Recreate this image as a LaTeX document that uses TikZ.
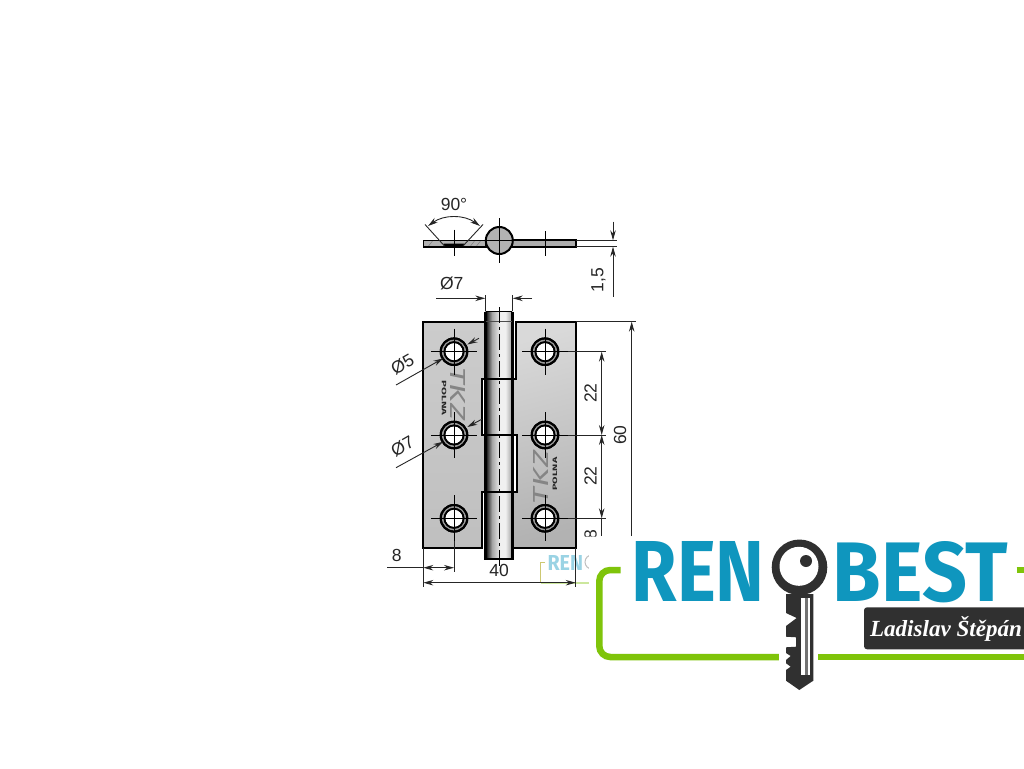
\documentclass[tikz,border=0pt]{standalone}
\usepackage{fontspec}
\usepackage{graphicx}
\setmainfont{Liberation Sans}
\newfontfamily\logofont{Fira Sans}
\newfontfamily\signfont{Liberation Serif}
\usetikzlibrary{arrows.meta}
\definecolor{logoblue}{HTML}{0F96BE}
\definecolor{logogreen}{HTML}{7FC40A}
\definecolor{logodark}{HTML}{303030}
\pgfdeclarehorizontalshading{pinshade}{100bp}{
 color(0bp)=(black); color(25bp)=(black); color(29bp)=(black!75); color(37bp)=(black!35);
 color(52bp)=(black!6); color(62bp)=(black!6); color(75bp)=(black!38); color(100bp)=(black!38)}
\tikzset{
 x=1pt,y=-1pt,
 dimtext/.style={font=\fontsize{17.5}{17.5}\selectfont,inner sep=0pt,text=black!85},
 dimline/.style={line width=0.9pt,draw=black!85},
 arrowline/.style={dimline,-{Stealth[length=10pt,width=5.5pt]}},
 centerline/.style={line width=0.9pt,draw=black},
 outline/.style={line width=2.2pt,draw=black,line join=miter},
 framegreen/.style={line width=6.5pt,draw=logogreen},
 holering/.style={draw=black,line width=2pt,fill=black!40},
 holeinner/.style={draw=black,line width=1.6pt,fill=white},
}
\newcommand{\hingehole}[2]{%
 \fill[holering] (#1,#2) circle (13.3);
 \fill[holeinner] (#1,#2) circle (9.6);
 \draw[holering,fill=none] (#1,#2) circle (13.3);
 \draw[holeinner,fill=none] (#1,#2) circle (9.6);
 \draw[centerline] (#1-23,#2) -- (#1+23,#2) (#1,#2-23) -- (#1,#2+23);
}
\begin{document}
\begin{tikzpicture}
\path[use as bounding box] (0,0) rectangle (1024,768);
\clip (0,0) rectangle (1024,768);
\fill[white] (0,0) rectangle (1024,768);

% ---------- watermark below the drawing
\node[inner sep=0pt,text=logoblue!42] (wm) at (565.3,562.5) {\resizebox{35.5pt}{15pt}{\logofont\bfseries REN}};
\draw[line width=1pt,draw=black!25] (592,562) circle (7);
\draw[line width=1pt,draw=olive!45] (545,562) -- (540.5,562) -- (540.5,583);
\draw[line width=1.2pt,draw=logogreen!40] (540.5,583) -- (589,583);

% ---------- top view
\fill[black!30] (423.3,240.3) rectangle (486,246.7);
\fill[black!32] (512,240.3) rectangle (575.7,246.7);
\draw[line width=0.3pt,black!60] (428,246.7) -- (433,240.3) (470,246.7) -- (475,240.3) (476,246.7) -- (481,240.3);
\draw[line width=1.6pt] (423.3,240.3) rectangle (486,246.7);
\draw[line width=2pt] (512,240.3) rectangle (575.7,246.7);
\fill[black] (443.5,243.5) -- (464,243.5) -- (463,247.4) -- (444.5,247.4) -- cycle;
\draw[dimline] (425,224.5) -- (444.5,246) (483,224.5) -- (463,246);
\draw[{Stealth[length=10pt,width=5.5pt]}-{Stealth[length=10pt,width=5.5pt]},dimline] (428,226) .. controls (444,214.5) and (464,214.5) .. (480,226);
\node[dimtext] (a90) at (454,204) {90°};
\fill[black!30,draw=black,line width=2pt] (499.3,240.5) circle (13.5);
\draw[centerline] (499.3,218) -- (499.3,263) (486,240.5) -- (512.6,240.5);
\draw[centerline] (454,229.5) -- (454,256);
\draw[centerline] (545,231) -- (545,256);
% 1,5
\draw[dimline] (576,240.3) -- (617,240.3) (576,246.7) -- (617,246.7);
\draw[arrowline] (613,221.7) -- (613,240.3);
\draw[arrowline] (613,296.7) -- (613,246.7);
\node[dimtext,rotate=90] (t15) at (598.5,280) {1,5};

% ---------- front view: leaves
\path[draw=none,top color=black!20,bottom color=black!25]
 (423.3,321.7) -- (486,321.7) -- (486,379) -- (482.3,379) -- (482.3,435) -- (486,435) -- (486,492) -- (482.3,492) -- (482.3,548.3) -- (423.3,548.3) -- cycle;
\path[draw=none,top color=black!15,middle color=black!3,bottom color=black!30,shading angle=15]
 (516,321.7) -- (575.7,321.7) -- (575.7,548.3) -- (512,548.3) -- (512,492) -- (516.7,492) -- (516.7,435) -- (512,435) -- (512,379) -- (516,379) -- cycle;
% pin
\shade[shading=pinshade] (485.7,311.7) rectangle (512.3,559);
% outlines
\draw[outline] (485.7,321.7) -- (423.3,321.7) -- (423.3,548.3) -- (482.3,548.3) -- (482.3,492) -- (516.7,492) -- (516.7,435) -- (482.3,435) -- (482.3,379) -- (516,379) -- (516,321.7) -- (575.7,321.7) -- (575.7,548.3) -- (512.3,548.3);
\draw[line width=2.6pt] (485.7,311.7) -- (485.7,559) -- (512.3,559) -- (512.3,311.7);
\draw[line width=1.2pt] (485.7,311.7) -- (512.3,311.7);
\draw[line width=0.8pt,black!70] (485.7,321.7) -- (512.3,321.7);
\draw[dimline] (485.3,295) -- (485.3,311) (512.7,295) -- (512.7,311);
% pin centre line
\draw[line width=1pt,dash pattern=on 16pt off 4pt on 3pt off 4pt] (499,307) -- (499,570);

% logos on the leaves
\node[inner sep=0pt,rotate=-90,text=black!48] (logoa) at (458,393.5) {\resizebox{53pt}{15pt}{\logofont\itshape TKZ}};
\node[inner sep=0pt,rotate=-90,text=black!85] (logob) at (444,398) {\resizebox{35pt}{4.5pt}{\logofont\bfseries POLNA}};
\node[inner sep=0pt,rotate=90,text=black!48] (logoc) at (541,477.5) {\resizebox{53pt}{15pt}{\logofont\itshape TKZ}};
\node[inner sep=0pt,rotate=90,text=black!85] (logod) at (555,474) {\resizebox{33pt}{4.5pt}{\logofont\bfseries POLNA}};

% holes
\hingehole{454}{351.7}
\hingehole{454}{435}
\hingehole{454}{518.3}
\hingehole{545}{351.7}
\hingehole{545}{435}
\hingehole{545}{518.3}

% dimensions, front view
\node[dimtext] (d7top) at (451.7,283.5) {Ø7};
\draw[arrowline] (436,298.3) -- (485.3,298.3);
\draw[arrowline] (532,298.3) -- (512.7,298.3);
\draw[dimline] (576,321.7) -- (636,321.7);
\draw[dimline] (568,351.7) -- (606,351.7) (568,435) -- (606,435) (568,518.3) -- (606,518.3);
\draw[arrowline] (601.7,393) -- (601.7,351.7);
\draw[arrowline] (601.7,393) -- (601.7,435);
\draw[arrowline] (601.7,476) -- (601.7,435);
\draw[arrowline] (601.7,476) -- (601.7,518.3);
\draw[dimline] (601.7,518.3) -- (601.7,536);
\draw[arrowline] (631.7,536) -- (631.7,321.7);
\node[dimtext,rotate=90] (d22a) at (590.5,393) {22};
\node[dimtext,rotate=90] (d22b) at (590.5,476) {22};
\node[dimtext,rotate=90] (d60) at (620,435) {60};
\node[dimtext,rotate=90] (d8r) at (590.5,535) {8};
% leaders
\draw[arrowline] (396,385) -- (443.3,358.3);
\draw[arrowline] (479,338.3) -- (467.3,344.5);
\draw[arrowline] (396,467.7) -- (443.3,441.7);
\draw[arrowline] (481.7,419.3) -- (467.3,427);
\node[dimtext,rotate=30] (d5l) at (402.5,364.5) {Ø5};
\node[dimtext,rotate=30] (d7l) at (402.5,446) {Ø7};
% 8 and 40
\draw[dimline] (423.3,548.3) -- (423.3,587) (575.7,548.3) -- (575.7,587);
\draw[dimline] (454,541) -- (454,571.7);
\draw[dimline] (387,567.7) -- (423.3,567.7);
\draw[arrowline] (438,567.7) -- (423.3,567.7);
\draw[arrowline] (438,567.7) -- (454,567.7);
\node[dimtext] (d8) at (396.7,555) {8};
\node[dimtext] (d40) at (499,570.5) {40};
\draw[arrowline] (499,582.7) -- (423.3,582.7);
\draw[arrowline] (499,582.7) -- (575.7,582.7);

% ---------- logo panel
\fill[white] (577,536.5) -- (1024,536.5) -- (1024,705) -- (589,705) -- (589,549) -- (577,549) -- cycle;
\draw[framegreen,rounded corners=11pt] (620.7,570) -- (599.3,570) -- (599.3,657) -- (781.7,657);
\draw[framegreen] (816,657) -- (1024,657);
\draw[framegreen] (1016.7,570) -- (1024,570);
\node[inner sep=0pt,text=logoblue] (ren) at (698.3,571.7) {\resizebox{133pt}{60pt}{\logofont\bfseries REN}};
\node[inner sep=0pt,text=logoblue] (best) at (920.5,571.7) {\resizebox{175pt}{60pt}{\logofont\bfseries BEST}};
\fill[logodark,rounded corners=3pt] (864,607.3) rectangle (1040,649.3);
\node[inner sep=0pt,text=white] (name) at (946,628.5) {\resizebox{152pt}{!}{\signfont\bfseries\itshape Ladislav Štěpán}};
% key
\fill[white] (779,594) rectangle (818,692);
\fill[logodark]
 (786,594) -- (786,613) -- (796.7,618) -- (786,626) -- (786,636.7) -- (796,637.3) -- (796,646.7) -- (786,647.3)
 -- (786,653) -- (790.7,656) -- (786,660) -- (786,663.3) -- (790.7,666.7) -- (786,670) -- (786,680.7) -- (799.3,690) -- (813.3,680.7) -- (813.3,594) -- cycle;
\fill[logodark] (799.5,567.3) circle (27.8);
\fill[white] (799,566.3) circle (19.5);
\fill[logodark] (806,561) circle (6);
\fill[white] (801,597.7) rectangle (805,675);
\fill[white] (807.7,597.7) rectangle (810,675);
\fill[black!55] (805,597.7) rectangle (807.7,675);
\end{tikzpicture}
\end{document}
